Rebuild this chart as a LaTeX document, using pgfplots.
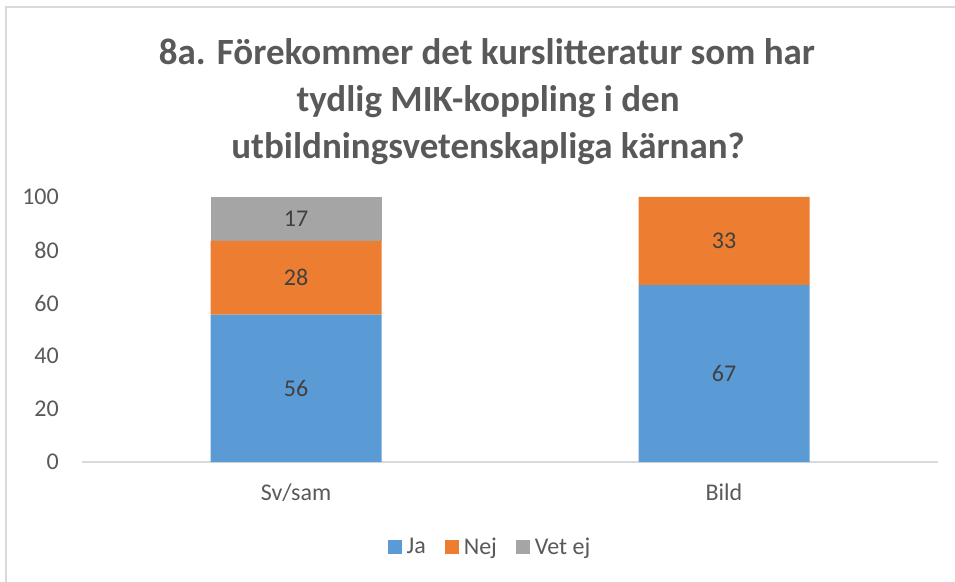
\documentclass[border=0pt]{standalone}
\usepackage{pgfplots}
\pgfplotsset{compat=1.18}
\usepackage{fontspec}
\setmainfont{Carlito}
\definecolor{cblue}{HTML}{5B9BD5}
\definecolor{corange}{HTML}{ED7D31}
\definecolor{cgray}{HTML}{A5A5A5}
\definecolor{ctext}{HTML}{595959}
\definecolor{clab}{HTML}{404040}
\definecolor{cline}{HTML}{D9D9D9}
\begin{document}
\begin{tikzpicture}[x=1pt,y=1pt]
\path[use as bounding box] (0,0) rectangle (955,581);
\draw[cline,line width=1.5pt] (6,-5) -- (6,574) -- (960,574);
\node[anchor=base,font=\fontsize{37}{46}\selectfont\bfseries,text=ctext] at (487,516) {8a. Förekommer det kurslitteratur som har};
\node[anchor=base,font=\fontsize{37}{46}\selectfont\bfseries,text=ctext] at (488,469) {tydlig MIK-koppling i den};
\node[anchor=base,font=\fontsize{37}{46}\selectfont\bfseries,text=ctext] at (488,422) {utbildningsvetenskapliga kärnan?};
\begin{axis}[
  at={(82pt,119pt)}, anchor=south west,
  scale only axis, width=856pt, height=265pt,
  ybar stacked, bar width=171pt,
  xmin=-0.5, xmax=1.5, ymin=0, ymax=100,
  xtick={0,1}, xticklabels={Sv/sam,Bild},
  ytick={0,20,40,60,80,100},
  axis x line*=bottom, axis y line*=left,
  x axis line style={draw=cline,line width=1.2pt,-},
  y axis line style={draw=none},
  tick style={draw=none}, major tick length=0pt,
  /pgf/number format/assume math mode=true,
  tick label style={font=\fontsize{24}{28}\selectfont,text=ctext,inner sep=0pt},
  yticklabel style={anchor=east,xshift=-23pt},
  xticklabel style={anchor=base,yshift=-38pt},
  legend style={at={(axis description cs:0.4766,-0.3208)},anchor=center,draw=none,
    legend columns=3,font=\fontsize{24}{28}\selectfont,text=ctext,
    /tikz/every even column/.append style={column sep=17pt}},
  legend image code/.code={\fill[#1] (0pt,-7pt) rectangle (14pt,7pt); \path (17pt,0pt);},
  clip=false,
]
\addplot[fill=cblue,draw=none] coordinates {(0,55.6) (1,66.7)};
\addplot[fill=corange,draw=none] coordinates {(0,27.8) (1,33.3)};
\addplot[fill=cgray,draw=none] coordinates {(0,16.7)};
\legend{Ja,Nej,Vet ej}
\end{axis}
\begin{axis}[
  at={(82pt,119pt)}, anchor=south west,
  scale only axis, width=856pt, height=265pt,
  xmin=-0.5, xmax=1.5, ymin=0, ymax=100,
  hide axis, clip=false,
]
\addplot[only marks, mark=none, point meta=explicit symbolic,
  nodes near coords, nodes near coords align={center},
  every node near coord/.append style={font=\fontsize{24}{28}\selectfont,text=clab,anchor=center}]
  coordinates {(0,27.8)[56] (0,69.5)[28] (0,91.65)[17] (1,33.35)[67] (1,83.35)[33]};
\end{axis}
\end{tikzpicture}
\end{document}
